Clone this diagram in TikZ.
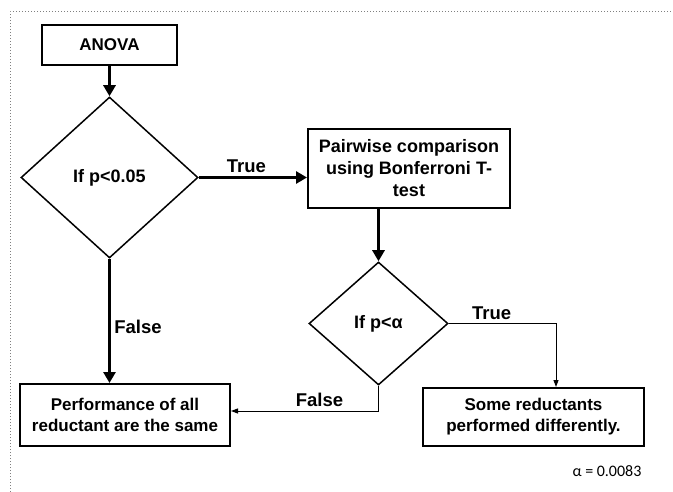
\documentclass[tikz,border=0pt]{standalone}
\usepackage{fontspec}
\setmainfont{Liberation Sans}
\newfontfamily\notefont{Carlito}
\usetikzlibrary{shapes.geometric,arrows.meta}

\tikzset{
    box/.style={draw, line width=2pt, align=center, inner sep=0pt,
        font=\bfseries\fontsize{17}{21}\selectfont},
    decision/.style={draw, diamond, line width=1.5pt, inner sep=0pt,
        font=\bfseries\fontsize{18}{22}\selectfont},
    bigarrow/.style={line width=3pt, -{Triangle[length=11pt,width=12pt]}},
    thinarrow/.style={line width=1pt, -{Triangle[length=7pt,width=5pt]}},
    lbl/.style={font=\bfseries\fontsize{18.5}{22}\selectfont}
}

\begin{document}
\begin{tikzpicture}[x=1pt, y=-1pt]

    \useasboundingbox (0,0) rectangle (673,492);
    \draw[gray, dotted, line width=1pt] (10,492) -- (10,12) -- (673,12);

    \node[box, minimum width=135pt, minimum height=40pt] (anova) at (109.5,45) {ANOVA};
    \node[decision, minimum width=177pt, minimum height=161pt] (test1) at (109.5,177.5) {If p<0.05};
    \node[box, minimum width=202pt, minimum height=79pt, font=\bfseries\fontsize{18}{22}\selectfont]
        (pairwise) at (409,168.5) {Pairwise comparison\\using Bonferroni T-\\test};
    \node[decision, minimum width=139pt, minimum height=123pt] (test2) at (378.5,323.5) {If p<α};
    \node[box, minimum width=210pt, minimum height=62pt] (same) at (125,415)
        {Performance of all\\reductant are the same};
    \node[box, minimum width=221pt, minimum height=58pt] (differ) at (533.5,417)
        {Some reductants\\performed differently.};

    \coordinate (differtop) at ([xshift=22.5pt]differ.north);
    \coordinate (sameside) at ([yshift=4pt]same.east);

    \draw[bigarrow] (anova.south) -- (test1.north);
    \draw[bigarrow] (test1.east) -- node[lbl, above, pos=.44] {True} (test1.east -| pairwise.west);
    \draw[bigarrow] (test1.south) -- node[lbl, right, pos=.55] {False} (test1.south |- same.north);
    \draw[bigarrow] (pairwise.south -| test2.north) -- (test2.north);

    \draw[thinarrow] (test2.east) -| node[lbl, above, pos=.2] {True} (differtop);
    \draw[thinarrow] (test2.south) |- node[lbl, above, pos=.7] {False} (sameside);

    \node[font=\notefont\fontsize{16}{19}\selectfont] (alpha) at (607,471) {α = 0.0083};

\end{tikzpicture}
\end{document}
